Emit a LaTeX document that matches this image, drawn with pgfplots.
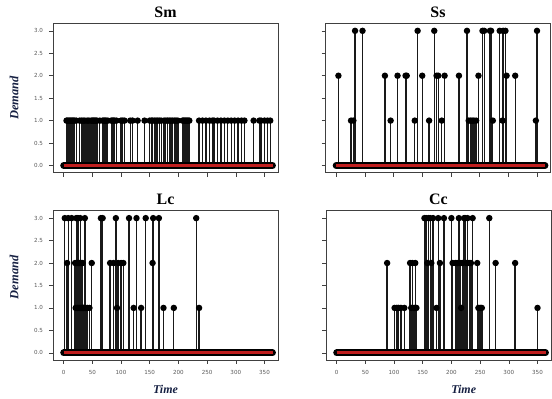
\documentclass[border=0pt]{standalone}
\usepackage{pgfplots}
\pgfplotsset{compat=1.18}
\usepackage{fontspec}
\setmainfont{Liberation Serif}
\newfontfamily\tickfont{DejaVu Sans}
\definecolor{basered}{RGB}{192,30,30}
\definecolor{navy}{RGB}{22,32,66}
\definecolor{tickgray}{RGB}{90,90,90}
\pgfplotsset{
  stemax/.style={
    scale only axis, width=225bp, height=149.5bp,
    xmin=-18.5, xmax=373.5, ymin=-0.16, ymax=3.17,
    xtick={0,50,...,350}, ytick={0,0.5,...,3},
    xtick pos=bottom, ytick pos=left,
    tick align=outside, major tick length=4bp,
    tick style={line width=0.6bp, black!75},
    axis line style={line width=0.8bp, black!75},
    tick label style={font=\tickfont\fontsize{5.6}{6}\selectfont, text=tickgray},
    /pgf/number format/assume math mode=true,
    yticklabel style={xshift=-2.5bp, /pgf/number format/.cd, fixed, fixed zerofill, precision=1},
    xticklabel style={yshift=-2.5bp, /pgf/number format/.cd, fixed, precision=0},
    title style={yshift=-3.5bp, font=\bfseries\fontsize{16}{18}\selectfont},
    ylabel style={font=\bfseries\itshape\fontsize{12.5}{14}\selectfont, text=navy},
    xlabel style={font=\bfseries\itshape\fontsize{12}{14}\selectfont, text=navy},
  },
  stem/.style={ycomb, black!90, line width=1.35bp, mark=*, mark size=2.5bp, mark options={fill=black, draw=black}},
  base1/.style={black, line width=6.8bp, line cap=round},
  base2/.style={basered, line width=2.8bp},
}
\begin{document}
\begin{tikzpicture}
\useasboundingbox (0,0) rectangle (552bp,399bp);
% ---------------- Sm ----------------
\begin{axis}[stemax, at={(53bp,226.3bp)}, anchor=south west,
  title={Sm}, xticklabels={}, ylabel={Demand},
  ylabel style={at={(axis description cs:-0.173,0.5)}, anchor=center}]
\addplot[stem] coordinates {
(5,1)(7,1)(9,1)(11,1)(13,1)(15,1)(17,1)(19,1)(22,1)(28,1)(31,1)(34,1)
(37,1)(41,1)(44,1)(48,1)(50,1)(52,1)(54,1)(56,1)(58,1)(63,1)
(68,1)(70,1)(72,1)(74,1)(77,1)(83,1)(85,1)(87,1)(89,1)(92,1)
(100,1)(103,1)(106,1)(116,1)(120,1)(129,1)(141,1)(150,1)(153,1)(155,1)
(158,1)(161,1)(164,1)(167,1)(170,1)(175,1)(178,1)(181,1)(184,1)
(187,1)(190,1)(193,1)(196,1)(199,1)(207,1)(209,1)(211,1)(213,1)(215,1)(217,1)(219,1)
(236,1)(242,1)(248,1)(254,1)(259,1)(262,1)(268,1)(274,1)(280,1)(286,1)(292,1)
(298,1)(304,1)(310,1)(315,1)(331,1)(341,1)(344,1)(350,1)(355,1)(360,1)};
\addplot[base1] coordinates {(0,0)(364,0)};
\addplot[base2] coordinates {(0,0)(364,0)};
\end{axis}
% ---------------- Ss ----------------
\begin{axis}[stemax, at={(325.5bp,226.3bp)}, anchor=south west,
  title={Ss}, xticklabels={}, yticklabels={}]
\addplot[stem] coordinates {
(4,2)(26,1)(30,1)(33,3)(46,3)(85,2)(95,1)(107,2)(121,2)(123,2)(137,1)
(142,3)(150,2)(162,1)(171,3)(175,2)(178,2)(184,1)(189,2)(214,2)(228,3)
(231,1)(234,1)(237,1)(240,1)(244,1)(248,2)(255,3)(258,3)(268,3)(270,3)
(273,1)(285,3)(290,1)(291,3)(295,3)(297,2)(312,2)(348,1)(350,3)};
\addplot[base1] coordinates {(0,0)(364,0)};
\addplot[base2] coordinates {(0,0)(364,0)};
\end{axis}
% ---------------- Lc ----------------
\begin{axis}[stemax, at={(53bp,39bp)}, anchor=south west,
  title={Lc}, ylabel={Demand}, xlabel={Time},
  ylabel style={at={(axis description cs:-0.173,0.553)}, anchor=center},
  xlabel style={at={(axis description cs:0.5,-0.2)}, anchor=center}]
\addplot[stem] coordinates {
(2,3)(6,2)(8,3)(14,3)(20,2)(21,1)(22,3)(23,2)(24,1)(25,3)(26,2)(27,1)
(28,2)(29,3)(30,1)(31,2)(32,1)(33,2)(34,1)(35,1)(37,3)(38,1)(41,1)(45,1)
(49,2)(65,3)(68,3)(81,2)(87,2)(91,3)(93,1)(95,2)(100,2)(104,2)(114,3)
(122,1)(127,3)(135,1)(143,3)(155,2)(156,3)(166,3)(174,1)(192,1)(231,3)(236,1)};
\addplot[base1] coordinates {(0,0)(364,0)};
\addplot[base2] coordinates {(0,0)(364,0)};
\end{axis}
% ---------------- Cc ----------------
\begin{axis}[stemax, at={(326bp,39bp)}, anchor=south west,
  title={Cc}, xlabel={Time}, yticklabels={},
  xlabel style={at={(axis description cs:0.612,-0.2)}, anchor=center}]
\addplot[stem] coordinates {
(88,2)(101,1)(105,1)(108,1)(112,1)(118,1)(128,2)(130,1)(132,2)(135,1)(137,2)
(139,1)(153,3)(156,3)(158,2)(160,3)(163,3)(165,2)(168,3)(174,1)(177,3)(180,2)
(187,3)(200,3)(202,2)(207,2)(210,2)(213,3)(215,2)(217,1)(219,2)(222,3)(224,3)
(226,2)(228,3)(231,2)(234,2)(237,3)(245,2)(247,1)(250,1)(253,1)(266,3)(277,2)
(311,2)(350,1)};
\addplot[base1] coordinates {(0,0)(364,0)};
\addplot[base2] coordinates {(0,0)(364,0)};
\end{axis}
\end{tikzpicture}
\end{document}
